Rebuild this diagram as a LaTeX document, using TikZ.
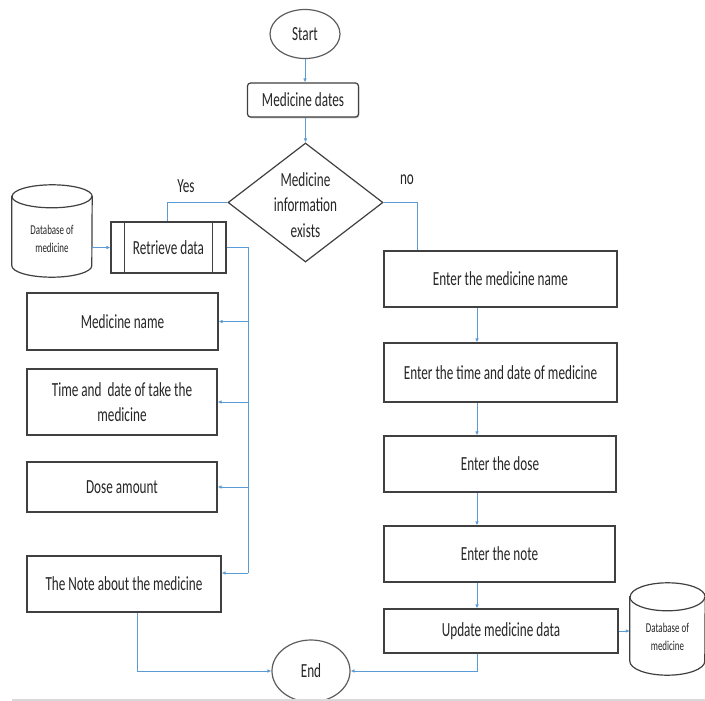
\documentclass[tikz,border=0pt]{standalone}
\usepackage{fontspec}
\setmainfont{Carlito}[FakeStretch=0.66]
\usetikzlibrary{shapes.geometric,arrows.meta,calc,shadows}
\definecolor{lineblue}{RGB}{91,155,213}
\definecolor{boxgray}{RGB}{64,64,64}
\begin{document}
\begin{tikzpicture}[x=1pt,y=-1pt,
  txt/.style={inner sep=0pt, align=center, text=black!85, font=\fontsize{20}{25.5}\selectfont},
  box/.style={txt, draw=boxgray, line width=1.2pt, fill=white,
    drop shadow={shadow xshift=0.8pt, shadow yshift=-1.3pt, opacity=0.45}},
  term/.style={txt, ellipse, draw=boxgray!85, line width=1.2pt, fill=white},
  dbtxt/.style={inner sep=0pt, align=center, text=black!85, font=\fontsize{13.5}{17.5}\selectfont},
  dbline/.style={draw=boxgray, line width=1.2pt, fill=white},
  conn/.style={draw=lineblue, line width=0.9pt},
  arr/.style={conn, -{Latex[length=4pt,width=3.6pt]}}]
\useasboundingbox (0,0) rectangle (705,701);

% helper columns
\coordinate (yx) at (167,0);
\coordinate (nx) at (417,0);
\coordinate (bx) at (248,0);
\coordinate (rx) at (477,0);
\coordinate (lx) at (137,0);
\coordinate (bend) at (248,573);

% top
\node[term, minimum width=70pt, minimum height=49pt] (start) at (305,34) {Start};
\node[box, rounded corners=3pt, minimum width=111pt, minimum height=34pt] (dates) at (303,100) {Medicine dates};
\node[diamond, draw=boxgray, line width=1.2pt, fill=white, inner sep=0pt,
      minimum width=155pt, minimum height=119pt] (dia) at (305.5,202.5) {};
\node[txt] (diat) at (305.5,205) {Medicine\\information\\exists};
\node[txt] (yes) at (186,186) {Yes};
\node[txt] (no) at (407,180) {no};

% left database
\node[inner sep=0pt, minimum width=80pt, minimum height=92pt] (db1) at (52,231) {};
\draw[dbline] ($(db1.north west)+(0,11.5)$) -- ($(db1.south west)+(0,-11.5)$)
  arc[start angle=180, end angle=360, x radius=40pt, y radius=11.5pt]
  -- ($(db1.north east)+(0,11.5)$)
  arc[start angle=0, end angle=180, x radius=40pt, y radius=11.5pt] -- cycle;
\draw[dbline, fill=none] ($(db1.north west)+(0,11.5)$)
  arc[start angle=180, end angle=360, x radius=40pt, y radius=11.5pt];
\node[dbtxt] (db1t) at (52,239) {Database of\\medicine};

% retrieve
\node[box, minimum width=115pt, minimum height=51pt] (retr) at (168.5,247.5) {Retrieve data};
\draw[draw=boxgray, line width=1.2pt] ($(retr.north west)+(14,0)$) -- ($(retr.south west)+(14,0)$);
\draw[draw=boxgray, line width=1.2pt] ($(retr.north east)+(-14,0)$) -- ($(retr.south east)+(-14,0)$);

% left column
\node[box, minimum width=191pt, minimum height=57pt] (mname) at (122.5,321.5) {Medicine name};
\node[box, minimum width=190pt, minimum height=66pt] (mtime) at (122,402) {Time and~ date of take the\\medicine};
\node[box, minimum width=190pt, minimum height=50pt] (mdose) at (122,487) {Dose amount};
\node[box, minimum width=194pt, minimum height=56pt] (mnote) at (124,584) {The Note about the medicine};

% right column
\node[box, minimum width=233pt, minimum height=56pt] (ename) at (500.5,279) {Enter the medicine name};
\node[box, minimum width=233pt, minimum height=59pt] (etime) at (500.5,372.5) {Enter the time and date of medicine};
\node[box, minimum width=232pt, minimum height=56pt] (edose) at (500,464) {Enter the dose};
\node[box, minimum width=231pt, minimum height=56pt] (enote) at (499.5,554) {Enter the note};
\node[box, minimum width=234pt, minimum height=44pt] (eupd) at (501,631) {Update medicine data};

% right database
\node[inner sep=0pt, minimum width=75pt, minimum height=92pt] (db2) at (667.5,629) {};
\draw[dbline] ($(db2.north west)+(0,14)$) -- ($(db2.south west)+(0,-14)$)
  arc[start angle=180, end angle=360, x radius=37.5pt, y radius=14pt]
  -- ($(db2.north east)+(0,14)$)
  arc[start angle=0, end angle=180, x radius=37.5pt, y radius=14pt] -- cycle;
\draw[dbline, fill=none] ($(db2.north west)+(0,14)$)
  arc[start angle=180, end angle=360, x radius=37.5pt, y radius=14pt];
\node[dbtxt] (db2t) at (667.5,637) {Database of\\medicine};

% end
\node[term, minimum width=78pt, minimum height=62pt] (endn) at (311,671) {End};

% connectors
\draw[arr] (start.south) -- (start.south |- dates.north);
\draw[arr] (dates.south -| dia.north) -- (dia.north);
\draw[conn] (dia.west) -| (yx |- retr.north);
\draw[conn] (dia.east) -| (nx |- ename.north);
\draw[arr] (db1.east |- retr.west) -- (retr.west);
\draw[conn] (retr.east) -| (bend);
\draw[arr] (bx |- mname.east) -- (mname.east);
\draw[arr] (bx |- mtime.east) -- (mtime.east);
\draw[arr] (bx |- mdose.east) -- (mdose.east);
\draw[arr] (bend) -- (bend -| mnote.east);
\draw[arr] (rx |- ename.south) -- (rx |- etime.north);
\draw[arr] (rx |- etime.south) -- (rx |- edose.north);
\draw[arr] (rx |- edose.south) -- (rx |- enote.north);
\draw[arr] (rx |- enote.south) -- (rx |- eupd.north);
\draw[arr] (eupd.east) -- (eupd.east -| db2.west);
\draw[arr] (lx |- mnote.south) |- (endn.west);
\draw[arr] (rx |- eupd.south) |- (endn.east);

% bottom border line
\draw[black!15, line width=1.5pt] (12,700) -- (705,700);
\end{tikzpicture}
\end{document}
